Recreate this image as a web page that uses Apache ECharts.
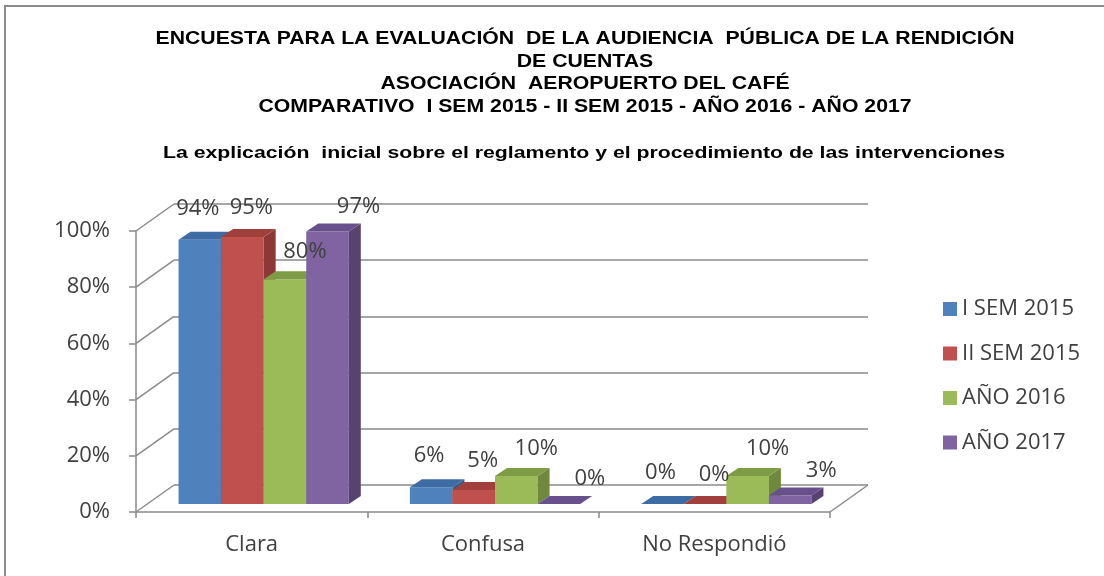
<!DOCTYPE html>
<html>
<head>
<meta charset="utf-8">
<script src="https://cdn.jsdelivr.net/npm/echarts@6/dist/echarts.min.js"></script>
<style>
html, body { margin: 0; padding: 0; background: #fff; }
#chart { width: 1104px; height: 576px; }
</style>
</head>
<body>
<div id="chart"></div>
<script>
// data
const categories = ['Clara', 'Confusa', 'No Respondió']
const seriesNames = ['I SEM 2015', 'II SEM 2015', 'AÑO 2016', 'AÑO 2017']
const sem1_2015 = [94, 6, 0]
const sem2_2015 = [95, 5, 0]
const year2016 = [80, 10, 10]
const year2017 = [97, 0, 3]
const yTicks = [0, 20, 40, 60, 80, 100]

const titleLines = [
  'ENCUESTA PARA LA EVALUACIÓN  DE LA AUDIENCIA  PÚBLICA DE LA RENDICIÓN',
  'DE CUENTAS',
  'ASOCIACIÓN  AEROPUERTO DEL CAFÉ',
  'COMPARATIVO  I SEM 2015 - II SEM 2015 - AÑO 2016 - AÑO 2017'
]
const subTitle = 'La explicación  inicial sobre el reglamento y el procedimiento de las intervenciones'

const allValues = [sem1_2015, sem2_2015, year2016, year2017]

// colours of the faces
const faceColors = ['#4F81BD', '#C0504D', '#9BBB59', '#8064A2']
const topColors = ['#3D6BA4', '#A03F3C', '#7E9B46', '#67508B']
const sideColors = ['#385D8A', '#8C3836', '#6F883E', '#574370']

// fake 3d geometry (pixels)
const WALL = [38, -27]
const BAR_SHIFT = [12, -8]
const BAR_DEPTH = [12, -8]
const BAR_RATIO = 0.184
const gridColor = '#8a8a8a'
const textColor = '#404040'
const font = 'Open Sans'

function barRenderer(si) {
  return function (params, api) {
    const idx = api.value(0)
    const val = api.value(1)
    const base = api.coord([idx, 0])
    const top = api.coord([idx, val])
    const band = api.size([1, 0])[0]
    const w = band * BAR_RATIO
    const x0 = base[0] - 2 * w + si * w + BAR_SHIFT[0]
    const x1 = x0 + w
    const yb = base[1] + BAR_SHIFT[1]
    const yt = top[1] + BAR_SHIFT[1]
    const dx = BAR_DEPTH[0]
    const dy = BAR_DEPTH[1]
    const children = []
    if (val > 0) {
      children.push({
        type: 'polygon',
        shape: { points: [[x0, yb], [x1, yb], [x1, yt], [x0, yt]] },
        style: { fill: faceColors[si] }
      })
      children.push({
        type: 'polygon',
        shape: { points: [[x1, yb], [x1 + dx, yb + dy], [x1 + dx, yt + dy], [x1, yt]] },
        style: { fill: sideColors[si] }
      })
    }
    children.push({
      type: 'polygon',
      shape: { points: [[x0, yt], [x1, yt], [x1 + dx, yt + dy], [x0 + dx, yt + dy]] },
      style: { fill: topColors[si] }
    })
    children.push({
      type: 'text',
      z2: 100,
      style: {
        x: x0 + w / 2 - 2 + 11 * si,
        y: yt - 31 + 2 * si,
        text: val + '%',
        fill: textColor,
        font: '22px "' + font + '"',
        align: 'center',
        verticalAlign: 'middle'
      }
    })
    return { type: 'group', children: children }
  }
}

function wallRenderer(params, api) {
  const cs = params.coordSys
  const v = api.value(1)
  const y = api.coord([0, v])[1]
  const children = [{
    type: 'line',
    shape: { x1: cs.x, y1: y, x2: cs.x + WALL[0], y2: y + WALL[1] },
    style: { stroke: gridColor, lineWidth: 1.5 }
  }]
  if (v === 0) {
    const xr = cs.x + cs.width
    children.push({
      type: 'line',
      shape: { x1: xr, y1: y, x2: xr + WALL[0], y2: y + WALL[1] },
      style: { stroke: gridColor, lineWidth: 1.5 }
    })
  }
  return { type: 'group', children: children }
}

const chart = echarts.init(document.getElementById('chart'))

const frontGrid = { left: 136, top: 231, width: 694, height: 281 }
const backGrid = {
  left: frontGrid.left + WALL[0],
  top: frontGrid.top + WALL[1],
  width: frontGrid.width,
  height: frontGrid.height
}

const series = [{
  type: 'custom',
  xAxisIndex: 0,
  yAxisIndex: 0,
  z: 1,
  silent: true,
  renderItem: wallRenderer,
  data: yTicks.map(v => [0, v])
}]
allValues.forEach((vals, si) => {
  series.push({
    type: 'custom',
    name: seriesNames[si],
    xAxisIndex: 0,
    yAxisIndex: 0,
    z: 2,
    itemStyle: { color: faceColors[si] },
    renderItem: barRenderer(si),
    encode: { x: 0, y: 1 },
    data: vals.map((v, i) => [i, v])
  })
})

const option = {
  animation: false,
  backgroundColor: '#fff',
  graphic: [
    {
      type: 'rect',
      shape: { x: 5, y: 6, width: 1200, height: 700 },
      style: { fill: 'none', stroke: '#8c8c8c', lineWidth: 2 }
    },
    {
      type: 'text',
      x: 585,
      y: 28,
      scaleX: 1.18,
      style: {
        x: 0, y: 0,
        text: titleLines.join('\n'),
        font: 'bold 18px "Liberation Sans"',
        lineHeight: 22.5,
        fill: '#000',
        align: 'center'
      }
    },
    {
      type: 'text',
      x: 584,
      y: 145,
      scaleX: 1.25,
      style: {
        x: 0, y: 0,
        text: subTitle,
        font: 'bold 17px "Liberation Sans"',
        fill: '#000',
        align: 'center'
      }
    }
  ],
  legend: {
    orient: 'vertical',
    left: 938,
    top: 293,
    itemWidth: 14,
    itemHeight: 14,
    itemGap: 22.5,
    icon: 'rect',
    data: seriesNames,
    textStyle: { fontFamily: font, fontSize: 22, lineHeight: 22, color: textColor }
  },
  grid: [
    Object.assign({}, frontGrid),
    Object.assign({}, backGrid)
  ],
  xAxis: [
    {
      type: 'category',
      gridIndex: 0,
      data: categories,
      axisLine: { lineStyle: { color: gridColor, width: 1.5 } },
      axisTick: { show: true, length: 6, lineStyle: { color: gridColor, width: 1.5 } },
      axisLabel: { fontFamily: font, fontSize: 22, color: textColor, margin: 22 }
    },
    {
      type: 'category',
      gridIndex: 1,
      data: categories,
      show: false
    }
  ],
  yAxis: [
    {
      type: 'value',
      gridIndex: 0,
      min: 0,
      max: 100,
      interval: 20,
      axisLine: { show: true, lineStyle: { color: gridColor, width: 1.5 } },
      axisTick: { show: true, length: 7, lineStyle: { color: gridColor, width: 1.5 } },
      splitLine: { show: false },
      axisLabel: { fontFamily: font, fontSize: 22, color: textColor, margin: 26, formatter: '{value}%' }
    },
    {
      type: 'value',
      gridIndex: 1,
      min: 0,
      max: 100,
      interval: 20,
      axisLine: { show: false },
      axisTick: { show: false },
      axisLabel: { show: false },
      splitLine: { show: true, lineStyle: { color: gridColor, width: 1.5 } }
    }
  ],
  series: series
}

chart.setOption(option)
window.addEventListener('resize', function () {
  chart.resize()
})
</script>
</body>
</html>
